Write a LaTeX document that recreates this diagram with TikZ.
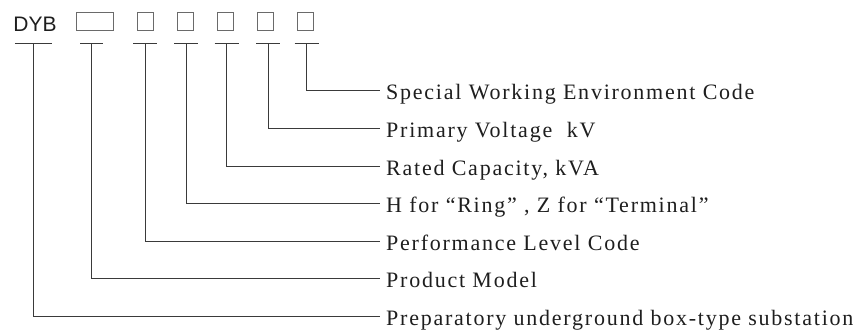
\documentclass[tikz,border=0pt]{standalone}
\usepackage{fontspec}
\setmainfont{Liberation Serif}
\newfontfamily\codefont{Liberation Sans}
\usepackage{tikz}
\usetikzlibrary{positioning}
\definecolor{codeline}{HTML}{3A3A3A}
\definecolor{codegray}{HTML}{6A6A6A}
\definecolor{codetext}{HTML}{1E1E1E}

\begin{document}
\begin{tikzpicture}[x=1pt,y=-1pt,
    codebox/.style={draw=codegray, line width=0.9pt, inner sep=0pt, minimum height=18.5pt},
    rule/.style={draw=codeline, line width=0.9pt},
    desc/.style={anchor=west, inner xsep=6pt, inner ysep=0pt, text height=19pt, text depth=0pt,
      text=codetext, font=\fontsize{22}{24}\selectfont\addfontfeature{LetterSpace=8}}]
  \useasboundingbox (0,0) rectangle (860,330);
  % model code
  \node[anchor=base, inner sep=0pt, text=codetext, font=\fontsize{21}{24}\codefont] (c0) at (35,31.5) {DYB};
  \node[codebox, minimum width=37pt] (c1) at (94.5,21.6) {};
  \foreach \i/\x in {2/145.5,3/185.5,4/225.5,5/265.5,6/305.5}
    \node[codebox, minimum width=15.5pt] (c\i) at (\x,21.6) {};
  % descriptions
  \node[desc] (l6) at (380,90) {Special Working Environment Code};
  \node[desc] (l5) at (380,128) {Primary Voltage~ kV};
  \node[desc] (l4) at (380,166) {Rated Capacity, kVA};
  \node[desc] (l3) at (380,203) {H for “Ring” , Z for “Terminal”};
  \node[desc] (l2) at (380,241) {Performance Level Code};
  \node[desc] (l1) at (380,278) {Product Model};
  \node[desc] (l0) at (380,316) {Preparatory underground box-type substation};
  % leaders
  \foreach \i/\x/\w in {0/33.4/18.5,1/91.8/11.5,2/145/12,3/186/12,4/226.7/12,5/268.3/12,6/306.7/12} {
    \coordinate (b\i) at (\x,43.3);
    \draw[rule] ([xshift=-\w pt]b\i) -- ([xshift=\w pt]b\i);
    \draw[rule] (b\i) |- (l\i.west);
  }
\end{tikzpicture}
\end{document}
